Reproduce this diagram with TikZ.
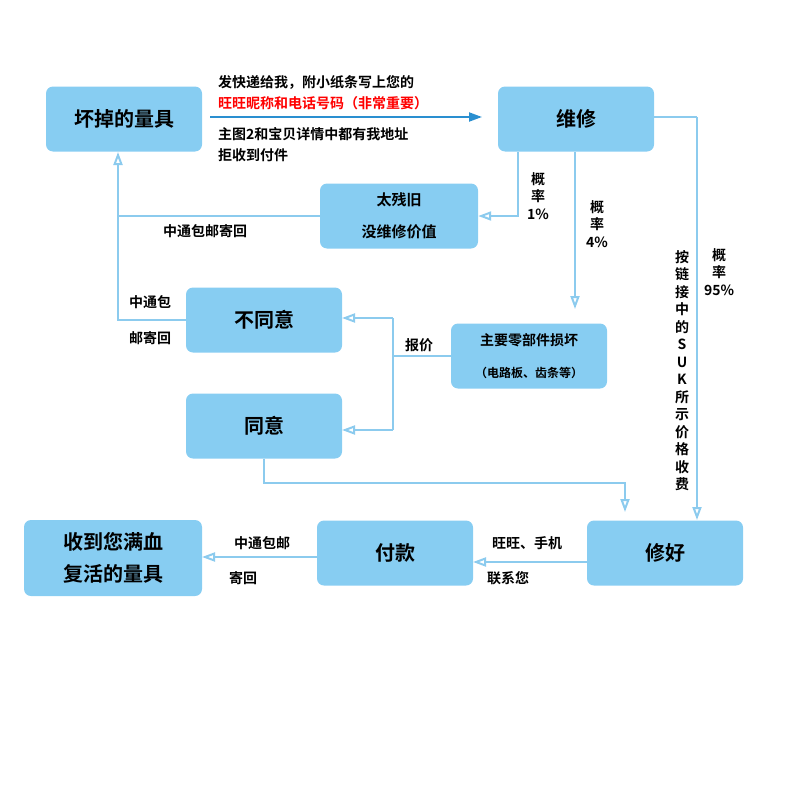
\documentclass[tikz,border=0pt]{standalone}
\usepackage{fontspec}
\setmainfont{Noto Sans CJK SC}[BoldFont={Noto Sans CJK SC Bold}]
\usetikzlibrary{arrows.meta}
\definecolor{bx}{HTML}{87CDF2}
\definecolor{lc}{HTML}{8CCBEE}
\definecolor{dk}{HTML}{2A8FD0}
\begin{document}
\begin{tikzpicture}[x=1pt,y=-1pt,
 box/.style={fill=bx,rounded corners=7pt,minimum width=156pt,minimum height=65pt,font=\bfseries\fontsize{20}{22}\selectfont,align=center,inner sep=0},
 sbox/.style={box,font=\bfseries\fontsize{15}{32}\selectfont},
 ar/.style={lc,line width=2pt,-{Triangle[open,length=13pt,width=9pt]}},
 lin/.style={lc,line width=2pt},
 lb/.style={font=\bfseries\fontsize{14}{21}\selectfont,inner sep=0,align=left},
 vt/.style={font=\bfseries\fontsize{14}{17.5}\selectfont,inner sep=0,align=center}]
\useasboundingbox (0,0) rectangle (800,800);
\node[box] (a) at (124,119) {坏掉的量具};
\node[box] (w) at (576,119) {维修};
\node[sbox,minimum width=158pt] (t) at (399,216) {太残旧\\没维修价值};
\node[box] (n) at (264,320) {不同意};
\node[sbox,font=\bfseries\fontsize{14}{32}\selectfont] (z) at (529,356) {主要零部件损坏\\{\fontsize{12}{12}\selectfont（电路板、齿条等）}};
\node[box] (y) at (264,426) {同意};
\node[box,minimum width=178pt,minimum height=76pt,font=\bfseries\fontsize{20}{32}\selectfont] (s) at (113,558) {收到您满血\\复活的量具};
\node[box] (f) at (395,553) {付款};
\node[box] (h) at (665,553) {修好};
% top arrow
\coordinate (a1) at (210,117);
\coordinate (a2) at (482,117);
\draw[dk,line width=2pt,-{Triangle[length=13pt,width=9pt]}] (a1) -- (a2);
\node[lb,anchor=south west] (l1) at (218,110) {发快递给我，附小纸条写上您的\\\textcolor{red}{旺旺昵称和电话号码（非常重要）}};
\node[lb,anchor=north west] (l2) at (218,127) {主图2和宝贝详情中都有我地址\\拒收到付件};
% 1%
\coordinate (p1) at (518,152);
\draw[ar] (p1) |- (t.east);
\node[vt,anchor=north west] (q1) at (527,172) {概\\率\\1\%};
% 4%
\coordinate (p0) at (575,152);
\coordinate (p4) at (575,309);
\draw[ar] (p0) -- (p4);
\node[vt,anchor=north west] (q4) at (586,200) {概\\率\\4\%};
% 95%
\coordinate (r1) at (697,117);
\coordinate (r2) at (697,520);
\draw[lin] (w.east |- r1) -- (r1);
\draw[ar] (r1) -- (r2);
\node[vt,anchor=north west] (q95) at (704,248) {概\\率\\95\%};
\node[vt,anchor=north] (vv) at (682,250) {按\\链\\接\\中\\的\\S\\U\\K\\所\\示\\价\\格\\收\\费};
% return from 太残旧
\coordinate (k) at (118,216);
\coordinate (k2) at (118,152);
\coordinate (k3) at (118,320);
\draw[lin] (t.west) -- (k);
\draw[ar] (k) -- (k2);
\node[lb] (l3) at (205,231) {中通包邮寄回};
\draw[lin] (n.west) -- (k3) -- (k);
\node[lb] (l4) at (150,302) {中通包};
\node[lb] (l5) at (150,338) {邮寄回};
% quote
\coordinate (b) at (393,356);
\coordinate (bt) at (393,318);
\coordinate (bb) at (393,430);
\coordinate (nt) at (342,318);
\coordinate (yt) at (342,430);
\draw[lin] (z.west) -- (b);
\draw[lin] (bt) -- (bb);
\draw[ar] (bt) -- (nt);
\draw[ar] (bb) -- (yt);
\node[lb] (l6) at (419,345) {报价};
% agree
\coordinate (g) at (264,483);
\coordinate (g2) at (625,512);
\draw[ar] (y.south) -- (g) -| (g2);
% bottom
\coordinate (h1) at (587,562);
\coordinate (f1) at (473,562);
\coordinate (f2) at (317,557);
\coordinate (s1) at (202,557);
\draw[ar] (h1) -- (f1);
\node[lb] (l7) at (527,543) {旺旺、手机};
\node[lb] (l8) at (508,578) {联系您};
\draw[ar] (f2) -- (s1);
\node[lb] (l9) at (262,543) {中通包邮};
\node[lb] (l10) at (243,578) {寄回};
\end{tikzpicture}
\end{document}
